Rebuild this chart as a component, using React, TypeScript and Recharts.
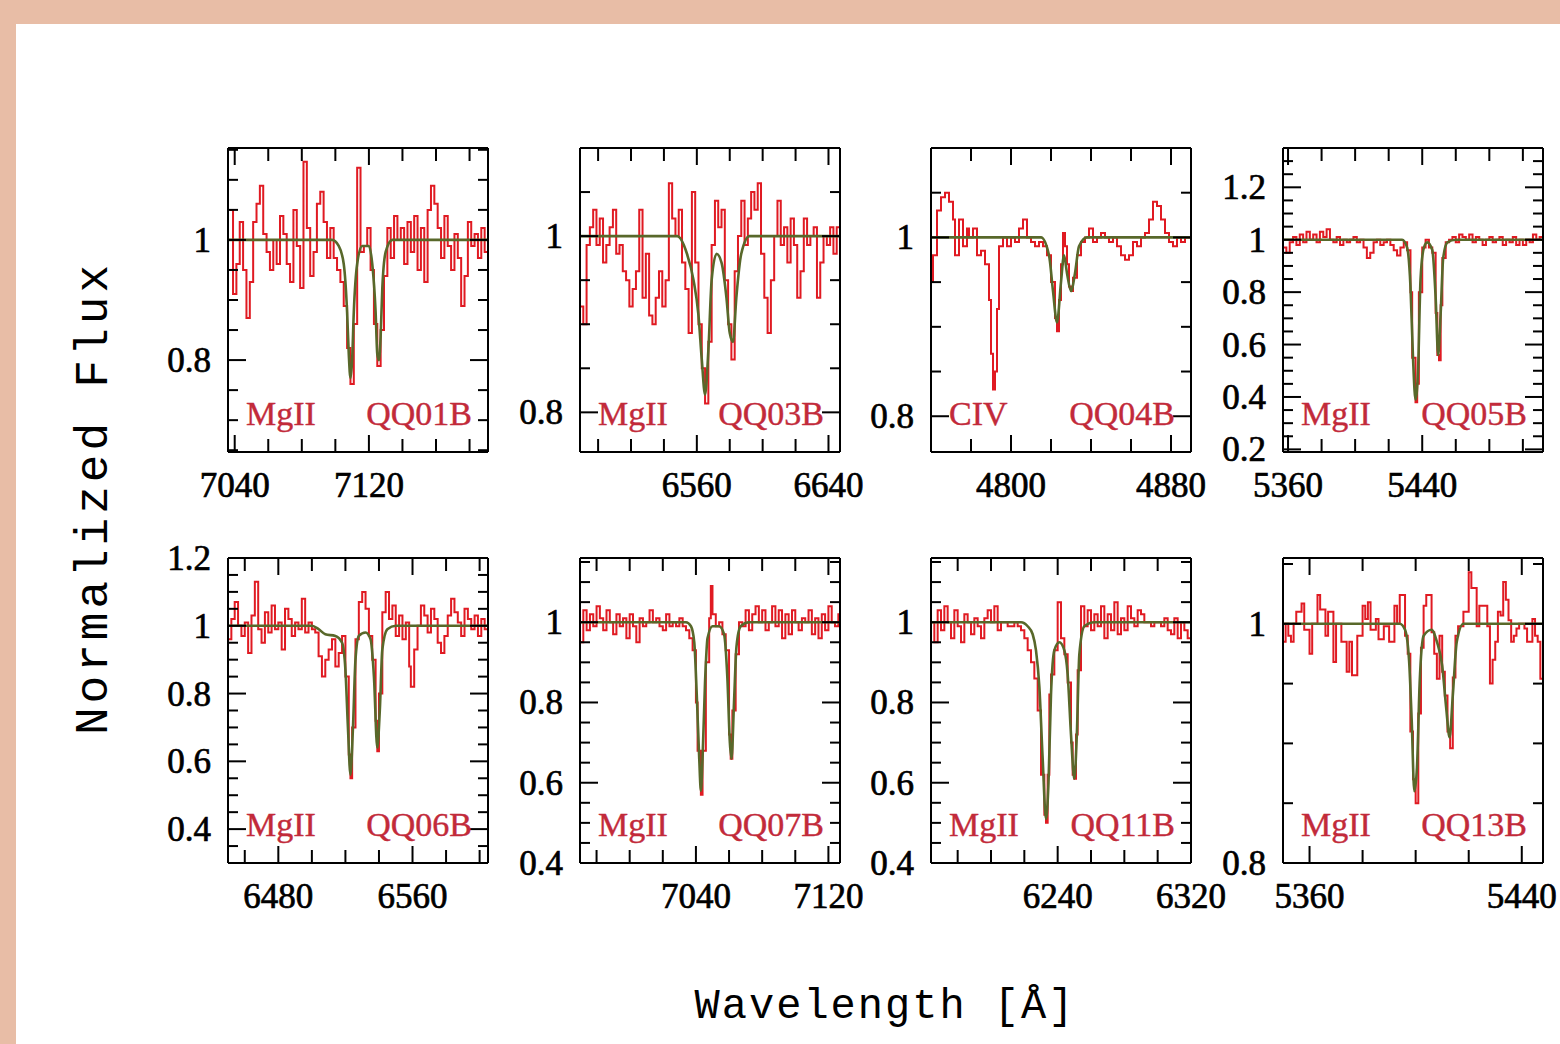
import { Line, LineChart, XAxis, YAxis } from "recharts";

// spectra: [wavelength, normalized flux]
const qq01Spec = [
  [7037, 1.05], [7039, 0.91], [7041, 0.96], [7043, 1.03], [7045, 0.95], [7047, 0.87], [7049, 0.93], [7051, 1.03],
  [7053, 1.06], [7055, 1.09], [7057, 1.01], [7059, 0.98], [7061, 0.95], [7063, 1.0], [7065, 0.96], [7067, 1.04],
  [7069, 1.01], [7071, 0.96], [7073, 0.93], [7075, 1.05], [7077, 0.99], [7079, 0.92], [7081, 1.13], [7083, 1.02],
  [7085, 0.94], [7087, 0.98], [7089, 1.06], [7091, 1.08], [7093, 1.03], [7095, 0.97], [7097, 1.02], [7099, 0.97],
  [7101, 0.95], [7103, 0.93], [7105, 0.89], [7107, 0.82], [7109, 0.76], [7111, 0.86], [7113, 1.12], [7115, 0.98],
  [7117, 0.99], [7119, 1.02], [7121, 0.95], [7123, 0.86], [7125, 0.79], [7127, 0.85], [7129, 0.94], [7131, 1.02],
  [7133, 0.97], [7135, 1.04], [7137, 1.0], [7139, 1.02], [7141, 0.96], [7143, 1.03], [7145, 0.98], [7147, 1.04],
  [7149, 0.95], [7151, 1.02], [7153, 0.93], [7155, 1.05], [7157, 1.09], [7159, 1.06], [7161, 1.02], [7163, 0.97],
  [7165, 1.04], [7167, 0.99], [7169, 0.95], [7171, 1.01], [7173, 0.97], [7175, 0.89], [7177, 0.94], [7179, 1.03],
  [7181, 0.99], [7183, 1.01], [7185, 0.97], [7187, 1.02], [7189, 0.98], [7191, 1.0],
];
const qq01Model = [
  [7036, 1], [7098, 1], [7102, 0.99], [7105, 0.96], [7107, 0.88], [7108, 0.81], [7109, 0.77], [7110, 0.8],
  [7111, 0.88], [7113, 0.96], [7116, 0.99], [7120, 0.99], [7122, 0.96], [7124, 0.88], [7125, 0.81], [7126, 0.8],
  [7127, 0.84], [7128, 0.92], [7130, 0.98], [7134, 1], [7191, 1],
];

const qq03Spec = [
  [6489, 0.92], [6491, 0.9], [6493, 0.99], [6495, 1.01], [6497, 1.03], [6499, 0.99], [6501, 1.02], [6503, 0.97],
  [6505, 0.99], [6507, 1.01], [6509, 1.03], [6511, 0.98], [6513, 0.99], [6515, 0.96], [6517, 0.95], [6519, 0.92],
  [6521, 0.94], [6523, 0.96], [6525, 1.03], [6527, 0.93], [6529, 0.98], [6531, 0.91], [6533, 0.9], [6535, 0.93],
  [6537, 0.96], [6539, 0.92], [6541, 0.95], [6543, 1.06], [6545, 1.02], [6547, 1.0], [6549, 1.03], [6551, 0.97],
  [6553, 0.94], [6555, 0.89], [6557, 1.05], [6559, 0.97], [6561, 0.9], [6563, 0.85], [6565, 0.81], [6567, 0.88],
  [6569, 0.99], [6571, 1.04], [6573, 1.01], [6575, 1.03], [6577, 0.95], [6579, 0.9], [6581, 0.86], [6583, 0.96],
  [6585, 1.0], [6587, 1.04], [6589, 0.99], [6591, 1.02], [6593, 1.05], [6595, 1.03], [6597, 1.06], [6599, 0.98],
  [6601, 0.93], [6603, 0.89], [6605, 0.95], [6607, 1.0], [6609, 1.04], [6611, 0.99], [6613, 1.01], [6615, 0.97],
  [6617, 1.02], [6619, 0.99], [6621, 0.93], [6623, 0.96], [6625, 1.02], [6627, 0.99], [6629, 1.0], [6631, 1.01],
  [6633, 0.93], [6635, 0.97], [6637, 1.0], [6639, 0.99], [6641, 1.01], [6643, 0.98], [6645, 1.01], [6647, 1.0],
];
const qq03Model = [
  [6489, 1], [6548, 1], [6554, 0.98], [6558, 0.95], [6561, 0.91], [6563, 0.86], [6565, 0.82], [6567, 0.87],
  [6569, 0.95], [6572, 0.98], [6575, 0.97], [6578, 0.93], [6580, 0.89], [6582, 0.88], [6584, 0.93], [6587, 0.98],
  [6592, 1], [6647, 1],
];

const qq04Spec = [
  [4760, 0.95], [4761, 0.98], [4763, 1.03], [4765, 1.045], [4767, 1.05], [4769, 1.04], [4771, 1.02], [4772, 0.98],
  [4774, 1.02], [4776, 0.99], [4778, 1.01], [4779, 1.0], [4781, 1.01], [4783, 0.98], [4785, 0.985], [4787, 0.97],
  [4789, 0.93], [4790, 0.87], [4791, 0.83], [4792, 0.85], [4793, 0.92], [4794, 0.99], [4796, 1.0], [4798, 0.99],
  [4800, 1.0], [4802, 0.995], [4804, 1.01], [4806, 1.02], [4808, 1.0], [4810, 0.995], [4812, 0.99], [4814, 0.995],
  [4816, 0.99], [4818, 0.98], [4820, 0.95], [4822, 0.91], [4823, 0.895], [4824, 0.93], [4825, 0.97], [4826, 1.005],
  [4827, 0.99], [4828, 0.97], [4829, 0.945], [4830, 0.94], [4831, 0.955], [4833, 0.98], [4835, 0.995], [4837, 1.0],
  [4839, 1.01], [4841, 0.995], [4843, 1.0], [4845, 1.005], [4847, 1.0], [4849, 0.995], [4851, 1.0], [4853, 0.99],
  [4855, 0.98], [4857, 0.975], [4859, 0.98], [4861, 0.995], [4863, 0.99], [4865, 1.0], [4867, 1.005], [4869, 1.02],
  [4871, 1.04], [4873, 1.035], [4875, 1.02], [4877, 1.005], [4879, 0.995], [4881, 0.99], [4883, 1.0], [4885, 0.995],
  [4887, 1.0], [4889, 1.0], [4890, 0.995],
];
const qq04Model = [
  [4760, 1], [4815, 1], [4819, 0.98], [4821, 0.94], [4823, 0.905], [4825, 0.95], [4826.5, 0.98], [4828, 0.96],
  [4830, 0.94], [4832, 0.96], [4834, 0.99], [4838, 1], [4890, 1],
];

const qq05Spec = [
  [5357, 0.97], [5359, 0.95], [5361, 0.99], [5363, 1.01], [5365, 0.98], [5367, 1.02], [5369, 0.99], [5371, 1.03],
  [5373, 1.0], [5375, 1.02], [5377, 0.99], [5379, 1.03], [5381, 1.01], [5383, 1.04], [5385, 1.0], [5387, 0.99],
  [5389, 1.01], [5391, 0.98], [5393, 1.0], [5395, 0.99], [5397, 1.0], [5399, 1.01], [5401, 0.99], [5403, 1.0],
  [5405, 0.97], [5407, 0.93], [5409, 0.95], [5411, 0.99], [5413, 1.0], [5415, 0.98], [5417, 0.99], [5419, 1.0],
  [5421, 0.98], [5423, 0.96], [5425, 0.94], [5427, 0.97], [5429, 0.99], [5431, 0.96], [5433, 0.8], [5434, 0.55],
  [5436, 0.38], [5437, 0.45], [5438, 0.8], [5440, 0.97], [5442, 1.0], [5444, 0.97], [5446, 0.95], [5448, 0.72],
  [5449, 0.56], [5450, 0.54], [5451, 0.75], [5452, 0.93], [5454, 0.99], [5456, 1.0], [5458, 1.01], [5460, 0.99],
  [5462, 1.02], [5464, 1.01], [5466, 1.0], [5468, 1.02], [5470, 0.99], [5472, 1.01], [5474, 1.0], [5476, 0.98],
  [5478, 1.0], [5480, 1.01], [5482, 0.99], [5484, 1.0], [5486, 1.01], [5488, 0.98], [5490, 1.0], [5492, 0.99],
  [5494, 1.01], [5496, 0.98], [5498, 1.0], [5500, 0.98], [5502, 1.0], [5504, 0.99], [5506, 1.02], [5508, 1.0],
  [5510, 1.01], [5512, 1.0],
];
const qq05Model = [
  [5357, 1], [5428, 1], [5431, 0.97], [5433, 0.82], [5434.5, 0.55], [5436, 0.39], [5437.5, 0.5], [5439, 0.85],
  [5441, 0.97], [5443, 0.99], [5446, 0.96], [5448, 0.78], [5449.5, 0.56], [5451, 0.72], [5452.5, 0.93], [5455, 0.99],
  [5460, 1], [5512, 1],
];

const qq06Spec = [
  [6450, 0.96], [6452, 1.02], [6454, 1.07], [6456, 1.0], [6458, 0.97], [6460, 1.01], [6462, 0.92], [6464, 1.03],
  [6466, 1.13], [6468, 0.99], [6470, 0.95], [6472, 1.04], [6474, 0.98], [6476, 1.06], [6478, 0.99], [6480, 1.01],
  [6482, 0.93], [6484, 1.05], [6486, 1.02], [6488, 0.97], [6490, 1.01], [6492, 0.99], [6494, 1.08], [6496, 0.98],
  [6498, 1.01], [6500, 0.99], [6502, 0.98], [6504, 0.91], [6506, 0.85], [6508, 0.9], [6510, 0.93], [6512, 0.96],
  [6514, 0.88], [6516, 0.92], [6518, 0.97], [6520, 0.85], [6522, 0.62], [6523, 0.55], [6524, 0.7], [6526, 0.96],
  [6528, 1.07], [6530, 1.1], [6532, 1.05], [6534, 0.97], [6536, 0.9], [6538, 0.72], [6539, 0.63], [6540, 0.8],
  [6542, 1.04], [6544, 1.1], [6546, 1.02], [6548, 1.06], [6550, 0.97], [6552, 1.03], [6554, 0.96], [6556, 1.01],
  [6558, 0.88], [6559, 0.82], [6561, 0.93], [6563, 1.0], [6565, 1.06], [6567, 1.03], [6569, 0.98], [6571, 1.05],
  [6573, 1.02], [6575, 0.95], [6577, 0.92], [6579, 0.97], [6581, 1.03], [6583, 1.08], [6585, 1.04], [6587, 1.01],
  [6589, 0.97], [6591, 1.05], [6593, 1.02], [6595, 0.99], [6597, 1.03], [6599, 0.97], [6601, 1.02], [6603, 0.99],
  [6605, 1.0],
];
const qq06Model = [
  [6450, 1], [6500, 1], [6504, 0.99], [6508, 0.975], [6514, 0.97], [6518, 0.95], [6520, 0.87], [6521.5, 0.7],
  [6523, 0.56], [6524.5, 0.7], [6526, 0.9], [6528, 0.97], [6532, 0.98], [6535, 0.96], [6537, 0.85], [6539, 0.64],
  [6540.5, 0.75], [6542, 0.93], [6545, 0.99], [6550, 1], [6605, 1],
];

const qq07Spec = [
  [6970, 0.95], [6972, 1.03], [6974, 0.98], [6976, 1.02], [6978, 0.99], [6980, 1.04], [6982, 1.01], [6984, 0.98],
  [6986, 1.03], [6988, 1.0], [6990, 0.97], [6992, 1.02], [6994, 0.99], [6996, 1.01], [6998, 0.96], [7000, 1.02],
  [7002, 0.99], [7004, 0.95], [7006, 1.01], [7008, 0.99], [7010, 1.0], [7012, 1.03], [7014, 1.0], [7016, 1.01],
  [7018, 0.99], [7020, 0.98], [7022, 1.02], [7024, 0.99], [7026, 1.0], [7028, 0.99], [7030, 1.01], [7032, 0.99],
  [7034, 0.98], [7036, 0.96], [7038, 0.93], [7040, 0.8], [7041, 0.68], [7043, 0.57], [7044, 0.68], [7046, 0.9],
  [7048, 1.01], [7049, 1.09], [7050, 1.02], [7052, 0.99], [7054, 1.0], [7056, 0.97], [7058, 0.93], [7060, 0.72],
  [7061, 0.66], [7062, 0.78], [7064, 0.92], [7066, 1.0], [7068, 0.99], [7070, 1.03], [7072, 0.98], [7074, 1.02],
  [7076, 1.04], [7078, 1.0], [7080, 1.03], [7082, 0.98], [7084, 1.0], [7086, 1.04], [7088, 0.99], [7090, 1.03],
  [7092, 0.96], [7094, 1.02], [7096, 0.97], [7098, 1.03], [7100, 1.0], [7102, 0.98], [7104, 1.01], [7106, 1.0],
  [7108, 1.03], [7110, 0.97], [7112, 1.01], [7114, 0.96], [7116, 1.02], [7118, 0.98], [7120, 1.04], [7122, 1.0],
  [7124, 0.99], [7126, 1.02], [7127, 1.0],
];
const qq07Model = [
  [6970, 1], [7034, 1], [7037, 0.99], [7039, 0.95], [7040.5, 0.82], [7042, 0.66], [7043, 0.58], [7044, 0.66],
  [7045.5, 0.85], [7047, 0.96], [7050, 0.99], [7054, 0.99], [7057, 0.97], [7059, 0.86], [7060.5, 0.7], [7061.5, 0.66],
  [7063, 0.8], [7064.5, 0.94], [7067, 0.99], [7072, 1], [7127, 1],
];

const qq11Spec = [
  [6164, 1.0], [6166, 0.95], [6168, 1.03], [6170, 0.98], [6172, 1.04], [6174, 1.0], [6176, 0.96], [6178, 1.03],
  [6180, 0.99], [6182, 0.95], [6184, 1.02], [6186, 1.0], [6188, 0.97], [6190, 1.01], [6192, 0.99], [6194, 0.96],
  [6196, 1.01], [6198, 1.03], [6200, 1.0], [6202, 1.04], [6204, 0.98], [6206, 1.0], [6208, 1.0], [6210, 0.99],
  [6212, 0.99], [6214, 1.0], [6216, 0.99], [6218, 0.98], [6220, 0.96], [6222, 0.93], [6224, 0.9], [6226, 0.86],
  [6228, 0.78], [6230, 0.62], [6232, 0.52], [6233, 0.5], [6234, 0.62], [6235, 0.82], [6236, 0.87], [6238, 0.93],
  [6240, 1.05], [6242, 0.96], [6244, 0.92], [6246, 0.85], [6248, 0.7], [6249, 0.62], [6250, 0.61], [6251, 0.72],
  [6252, 0.88], [6254, 1.04], [6256, 0.99], [6258, 1.03], [6260, 0.98], [6262, 1.02], [6264, 0.99], [6266, 1.04],
  [6268, 0.96], [6270, 1.02], [6272, 0.98], [6274, 1.05], [6276, 0.97], [6278, 1.01], [6280, 0.98], [6282, 1.04],
  [6284, 1.01], [6286, 0.99], [6288, 1.03], [6290, 1.02], [6292, 1.0], [6294, 1.0], [6296, 0.99], [6298, 1.0],
  [6300, 1.0], [6302, 0.99], [6304, 1.01], [6306, 0.98], [6308, 0.97], [6310, 1.01], [6312, 0.96], [6314, 1.0],
  [6316, 0.98], [6318, 0.96], [6320, 0.97],
];
const qq11Model = [
  [6164, 1], [6218, 1], [6222, 0.99], [6225, 0.97], [6227, 0.93], [6229, 0.84], [6231, 0.66], [6233, 0.51],
  [6234.5, 0.6], [6236, 0.82], [6238, 0.93], [6241, 0.95], [6244, 0.93], [6246, 0.87], [6248, 0.72], [6250, 0.61],
  [6251.5, 0.72], [6253, 0.92], [6256, 0.99], [6262, 1], [6320, 1],
];

const qq13Spec = [
  [5350, 0.985], [5351, 1.0], [5352, 0.99], [5353, 0.985], [5354, 1.0], [5355, 1.01], [5357, 1.017], [5358, 0.995],
  [5360, 0.975], [5361, 1.0], [5363, 1.024], [5364, 1.012], [5366, 0.99], [5367, 1.01], [5369, 0.968], [5370, 1.0],
  [5372, 0.985], [5374, 0.96], [5375, 0.985], [5376, 0.957], [5378, 0.99], [5380, 1.015], [5381, 1.004], [5382, 1.018],
  [5383, 0.995], [5385, 1.004], [5386, 0.987], [5388, 0.998], [5390, 0.985], [5392, 1.015], [5393, 1.0], [5394, 1.024],
  [5396, 0.99], [5397, 0.975], [5398, 0.91], [5399, 0.87], [5400, 0.85], [5401, 0.925], [5402, 0.98], [5403, 1.015],
  [5404, 1.024], [5406, 0.993], [5407, 0.975], [5408, 0.954], [5409, 0.99], [5410, 0.96], [5411, 0.94], [5412, 0.91],
  [5413, 0.896], [5414, 0.955], [5415, 0.99], [5416, 0.998], [5418, 1.01], [5420, 1.043], [5421, 1.03], [5423, 0.998],
  [5424, 1.015], [5425, 1.015], [5427, 0.998], [5428, 0.95], [5429, 0.97], [5430, 0.985], [5431, 1.01], [5432, 1.007],
  [5433, 1.035], [5434, 1.02], [5435, 1.003], [5436, 0.985], [5437, 0.99], [5438, 0.996], [5439, 1.0], [5441, 0.996],
  [5442, 0.985], [5444, 1.004], [5445, 0.99], [5446, 0.985], [5447, 0.954], [5448, 0.926],
];
const qq13Model = [
  [5350, 1], [5394, 1], [5396, 0.995], [5397.5, 0.97], [5398.5, 0.92], [5399.5, 0.86], [5400.5, 0.88], [5401.5, 0.95],
  [5403, 0.99], [5406, 0.995], [5408, 0.985], [5410, 0.965], [5411.5, 0.93], [5412.8, 0.905], [5414, 0.94], [5415.5, 0.985],
  [5418, 1], [5448, 1],
];

// axis ticks and labels
const qq01XTicks = [7040, 7060, 7080, 7100, 7120, 7140, 7160, 7180];
const qq01XLabels = [7040, 7120];
const qq03XTicks = [6500, 6520, 6540, 6560, 6580, 6600, 6620, 6640];
const qq03XLabels = [6560, 6640];
const qq04XTicks = [4780, 4800, 4820, 4840, 4860, 4880];
const qq04XLabels = [4800, 4880];
const qq05XTicks = [5360, 5380, 5400, 5420, 5440, 5460, 5480, 5500];
const qq05XLabels = [5360, 5440];
const qq06XTicks = [6460, 6480, 6500, 6520, 6540, 6560, 6580, 6600];
const qq06XLabels = [6480, 6560];
const qq07XTicks = [6980, 7000, 7020, 7040, 7060, 7080, 7100, 7120];
const qq07XLabels = [7040, 7120];
const qq11XTicks = [6180, 6200, 6220, 6240, 6260, 6280, 6300, 6320];
const qq11XLabels = [6240, 6320];
const qq13XTicks = [5360, 5380, 5400, 5420, 5440];
const qq13XLabels = [5360, 5440];

const qq01YTicks = [0.65, 0.7, 0.75, 0.8, 0.85, 0.9, 0.95, 1, 1.05, 1.1, 1.15];
const qq01YLabels = [0.8, 1];
const qq03YTicks = [0.8, 0.85, 0.9, 0.95, 1, 1.05, 1.1];
const qq03YLabels = [0.8, 1];
const qq04YTicks = [0.8, 0.85, 0.9, 0.95, 1, 1.05, 1.1];
const qq04YLabels = [0.8, 1];
const qq05YTicks = [0.2, 0.25, 0.3, 0.35, 0.4, 0.45, 0.5, 0.55, 0.6, 0.65, 0.7, 0.75, 0.8, 0.85, 0.9, 0.95, 1, 1.05, 1.1, 1.15, 1.2, 1.25, 1.3, 1.35];
const qq05YLabels = [0.2, 0.4, 0.6, 0.8, 1, 1.2];
const qq06YTicks = [0.3, 0.35, 0.4, 0.45, 0.5, 0.55, 0.6, 0.65, 0.7, 0.75, 0.8, 0.85, 0.9, 0.95, 1, 1.05, 1.1, 1.15, 1.2];
const qq06YLabels = [0.4, 0.6, 0.8, 1, 1.2];
const qq07YTicks = [0.4, 0.45, 0.5, 0.55, 0.6, 0.65, 0.7, 0.75, 0.8, 0.85, 0.9, 0.95, 1, 1.05, 1.1, 1.15];
const qq07YLabels = [0.4, 0.6, 0.8, 1];
const qq11YTicks = [0.4, 0.45, 0.5, 0.55, 0.6, 0.65, 0.7, 0.75, 0.8, 0.85, 0.9, 0.95, 1, 1.05, 1.1, 1.15];
const qq11YLabels = [0.4, 0.6, 0.8, 1];
const qq13YTicks = [0.8, 0.85, 0.9, 0.95, 1, 1.05];
const qq13YLabels = [0.8, 1];

const panels = [
  { name: "QQ01B", ion: "MgII", spec: qq01Spec, model: qq01Model, xDomain: [7036, 7191], yDomain: [0.647, 1.153], xTicks: qq01XTicks, xLabels: qq01XLabels, yTicks: qq01YTicks, yLabels: qq01YLabels },
  { name: "QQ03B", ion: "MgII", spec: qq03Spec, model: qq03Model, xDomain: [6489, 6647], yDomain: [0.755, 1.1], xTicks: qq03XTicks, xLabels: qq03XLabels, yTicks: qq03YTicks, yLabels: qq03YLabels },
  { name: "QQ04B", ion: "CIV", spec: qq04Spec, model: qq04Model, xDomain: [4760, 4890], yDomain: [0.76, 1.1], xTicks: qq04XTicks, xLabels: qq04XLabels, yTicks: qq04YTicks, yLabels: qq04YLabels },
  { name: "QQ05B", ion: "MgII", spec: qq05Spec, model: qq05Model, xDomain: [5357, 5512], yDomain: [0.19, 1.35], xTicks: qq05XTicks, xLabels: qq05XLabels, yTicks: qq05YTicks, yLabels: qq05YLabels },
  { name: "QQ06B", ion: "MgII", spec: qq06Spec, model: qq06Model, xDomain: [6450, 6605], yDomain: [0.3, 1.2], xTicks: qq06XTicks, xLabels: qq06XLabels, yTicks: qq06YTicks, yLabels: qq06YLabels },
  { name: "QQ07B", ion: "MgII", spec: qq07Spec, model: qq07Model, xDomain: [6970, 7127], yDomain: [0.4, 1.16], xTicks: qq07XTicks, xLabels: qq07XLabels, yTicks: qq07YTicks, yLabels: qq07YLabels },
  { name: "QQ11B", ion: "MgII", spec: qq11Spec, model: qq11Model, xDomain: [6164, 6320], yDomain: [0.4, 1.16], xTicks: qq11XTicks, xLabels: qq11XLabels, yTicks: qq11YTicks, yLabels: qq11YLabels },
  { name: "QQ13B", ion: "MgII", spec: qq13Spec, model: qq13Model, xDomain: [5350, 5448], yDomain: [0.8, 1.055], xTicks: qq13XTicks, xLabels: qq13XLabels, yTicks: qq13YTicks, yLabels: qq13YLabels },
];

// layout
const colLeft = [228, 580, 931, 1283];
const rowTop = [148, 558];
const rowHeight = [304, 305];
const PLOT_W = 260;
const ML = 80, MR = 50, MT = 20, MB = 60;

const RED = "#e01a22";
const MODEL = "#58682a";
const LABEL_RED = "#c22a3a";
const serif = "'Liberation Serif', 'Times New Roman', serif";
const mono = "'Liberation Mono', 'Courier New', monospace";

function makeXTick(labels: number[], side: "bottom" | "top") {
  return (props: any) => {
    const { x, y, payload } = props;
    const v = payload.value;
    const major = labels.includes(v);
    const len = major ? 17 : 13;
    const dy = side === "bottom" ? -len : len;
    return (
      <g>
        <line x1={x} y1={y} x2={x} y2={y + dy} stroke="#000" strokeWidth={2} />
        {side === "bottom" && major ? (
          <text x={x} y={y + 45} textAnchor="middle" fontFamily={serif} fontSize={35} fill="#000"
            stroke="#000" strokeWidth={0.7}>
            {v}
          </text>
        ) : null}
      </g>
    );
  };
}

function makeYTick(labels: number[], side: "left" | "right") {
  return (props: any) => {
    const { x, y, payload } = props;
    const v = payload.value;
    const major = labels.includes(v);
    const len = major ? 18 : 10;
    const dx = side === "left" ? len : -len;
    return (
      <g>
        <line x1={x} y1={y} x2={x + dx} y2={y} stroke="#000" strokeWidth={2} />
        {side === "left" && major ? (
          <text x={x - 17} y={y + 12} textAnchor="end" fontFamily={serif} fontSize={35} fill="#000"
            stroke="#000" strokeWidth={0.7}>
            {v}
          </text>
        ) : null}
      </g>
    );
  };
}

const axisLine = { stroke: "#000", strokeWidth: 2 };

function Panel({ p, left, top, h }: { p: any; left: number; top: number; h: number }) {
  const spec = p.spec.map(([w, f]: number[]) => ({ w, f }));
  const model = p.model.map(([w, f]: number[]) => ({ w, f }));
  return (
    <div style={{ position: "absolute", left: left - ML - 1, top: top - MT - 1 }}>
      <LineChart
        width={ML + MR + PLOT_W + 2}
        height={MT + MB + h + 2}
        margin={{ top: MT, right: MR, bottom: MB, left: ML }}
      >
        <XAxis xAxisId="b" dataKey="w" type="number" domain={p.xDomain} allowDataOverflow ticks={p.xTicks} interval={0}
          height={1} tickSize={0} tickMargin={0} tickLine={false} axisLine={axisLine} tick={makeXTick(p.xLabels, "bottom")} />
        <XAxis xAxisId="t" orientation="top" dataKey="w" type="number" domain={p.xDomain} allowDataOverflow ticks={p.xTicks} interval={0}
          height={1} tickSize={0} tickMargin={0} tickLine={false} axisLine={axisLine} tick={makeXTick(p.xLabels, "top")} />
        <YAxis yAxisId="l" type="number" domain={p.yDomain} allowDataOverflow ticks={p.yTicks} interval={0}
          width={1} tickSize={0} tickMargin={0} tickLine={false} axisLine={axisLine} tick={makeYTick(p.yLabels, "left")} />
        <YAxis yAxisId="r" orientation="right" type="number" domain={p.yDomain} allowDataOverflow ticks={p.yTicks} interval={0}
          width={1} tickSize={0} tickMargin={0} tickLine={false} axisLine={axisLine} tick={makeYTick(p.yLabels, "right")} />
        <Line xAxisId="b" yAxisId="l" data={spec} dataKey="f" type="stepAfter" stroke={RED} strokeWidth={2}
          dot={false} activeDot={false} isAnimationActive={false} />
        <Line xAxisId="b" yAxisId="l" data={model} dataKey="f" type="monotone" stroke={MODEL} strokeWidth={2.6}
          dot={false} activeDot={false} isAnimationActive={false} />
      </LineChart>
    </div>
  );
}

export default function App() {
  return (
    <div style={{ position: "absolute", left: 0, top: 0, width: 1560, height: 1044, overflow: "hidden", background: "#e8bda6" }}>
      <div style={{ position: "absolute", left: 16, top: 24, right: 0, bottom: 0, background: "#fff" }} />
      {panels.map((p, i) => (
        <Panel key={p.name} p={p} left={colLeft[i % 4]} top={rowTop[Math.floor(i / 4)]} h={rowHeight[Math.floor(i / 4)]} />
      ))}
      <svg width={1560} height={1044} style={{ position: "absolute", left: 0, top: 0, pointerEvents: "none" }}>
        {panels.map((p, i) => {
          const left = colLeft[i % 4];
          const r = Math.floor(i / 4);
          const base = rowTop[r] + rowHeight[r] - 27;
          return (
            <g key={p.name} fontFamily={serif} fontSize={34} fill={LABEL_RED} stroke={LABEL_RED} strokeWidth={0.4}>
              <text x={left + 18} y={base}>{p.ion}</text>
              <text x={left + PLOT_W - 16} y={base} textAnchor="end">{p.name}</text>
            </g>
          );
        })}
        <text transform="translate(107,498) rotate(-90)" textAnchor="middle" fontFamily={mono} fontSize={46}
          letterSpacing={4} fill="#000">
          Normalized Flux
        </text>
        <text x={885} y={1018} textAnchor="middle" fontFamily={mono} fontSize={42} letterSpacing={2} fill="#000">
          Wavelength [Å]
        </text>
      </svg>
    </div>
  );
}
